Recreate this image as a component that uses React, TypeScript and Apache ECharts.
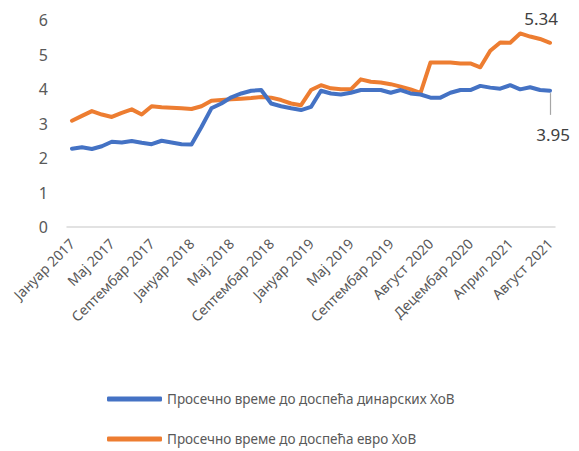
import React, { useEffect, useRef } from "react";
import * as echarts from "echarts";

const categories = [
  "Јануар 2017", "Фебруар 2017", "Март 2017", "Април 2017", "Мај 2017", "Јун 2017", "Јул 2017", "Август 2017",
  "Септембар 2017", "Октобар 2017", "Новембар 2017", "Децембар 2017",
  "Јануар 2018", "Фебруар 2018", "Март 2018", "Април 2018", "Мај 2018", "Јун 2018", "Јул 2018", "Август 2018",
  "Септембар 2018", "Октобар 2018", "Новембар 2018", "Децембар 2018",
  "Јануар 2019", "Фебруар 2019", "Март 2019", "Април 2019", "Мај 2019", "Јун 2019", "Јул 2019", "Август 2019",
  "Септембар 2019", "Октобар 2019", "Новембар 2019", "Децембар 2019",
  "Август 2020", "Септембар 2020", "Октобар 2020", "Новембар 2020", "Децембар 2020",
  "Јануар 2021", "Фебруар 2021", "Март 2021", "Април 2021", "Мај 2021", "Јун 2021", "Јул 2021", "Август 2021",
];

const dinarValues = [
  2.27, 2.31, 2.26, 2.34, 2.47, 2.45, 2.49, 2.44, 2.4, 2.5, 2.45, 2.4,
  2.39, 2.9, 3.44, 3.58, 3.76, 3.87, 3.95, 3.97, 3.58, 3.5, 3.44, 3.39,
  3.48, 3.95, 3.87, 3.84, 3.89, 3.97, 3.97, 3.97, 3.89, 3.97, 3.87, 3.84,
  3.75, 3.75, 3.89, 3.97, 3.97, 4.09, 4.04, 4.01, 4.11, 3.99, 4.05, 3.97, 3.95,
];

const euroValues = [
  3.08, 3.22, 3.36, 3.26, 3.19, 3.31, 3.41, 3.26, 3.5, 3.47, 3.46, 3.44,
  3.42, 3.5, 3.66, 3.68, 3.7, 3.72, 3.74, 3.77, 3.75, 3.68, 3.58, 3.53,
  3.97, 4.11, 4.02, 3.99, 3.99, 4.28, 4.21, 4.19, 4.14, 4.07, 3.99, 3.89,
  4.77, 4.77, 4.77, 4.74, 4.74, 4.63, 5.11, 5.35, 5.34, 5.61, 5.52, 5.45, 5.34,
];

const seriesNames = [
  "Просечно време до доспећа динарских ХоВ",
  "Просечно време до доспећа евро ХоВ",
];

const FONT = "'Noto Sans', sans-serif";

export default function App() {
  const ref = useRef<HTMLDivElement>(null);
  useEffect(() => {
    if (!ref.current) return;
    const chart = echarts.init(ref.current, null, { renderer: "svg" });
    const last = categories.length - 1;
    const lastDinar = dinarValues[last];
    const withLastLabel = (vals: number[], label: any) =>
      vals.map((v, i) => (i === last ? { value: v, label } : v));
    chart.setOption({
      animation: false,
      textStyle: { fontFamily: FONT },
      grid: { left: 67, right: 24, top: 20, bottom: 224, containLabel: false },
      legend: {
        orient: "vertical",
        left: 102,
        top: 387,
        itemGap: 26,
        itemWidth: 55,
        itemHeight: 5,
        icon: "roundRect",
        textStyle: { fontFamily: FONT, fontSize: 13.5, color: "#595959" },
        data: seriesNames,
      },
      xAxis: {
        type: "category",
        data: categories,
        boundaryGap: true,
        axisLine: { show: true, lineStyle: { color: "#d9d9d9", width: 1.5 } },
        axisTick: { show: false },
        axisLabel: {
          interval: 3,
          rotate: 45,
          color: "#595959",
          fontFamily: FONT,
          fontSize: 14,
          margin: 14,
        },
      },
      yAxis: {
        type: "value",
        min: 0,
        max: 6,
        interval: 1,
        axisLine: { show: false },
        axisTick: { show: false },
        splitLine: { show: false },
        axisLabel: { color: "#595959", fontFamily: FONT, fontSize: 16, margin: 19 },
      },
      series: [
        {
          name: seriesNames[0],
          type: "line",
          data: withLastLabel(dinarValues, {
            show: true,
            position: "bottom",
            distance: 5,
            formatter: (p: any) => p.value.toFixed(2),
            fontSize: 17,
            color: "#404040",
            fontFamily: FONT,
          }),
          labelLayout: { dy: 30, dx: 3 },
          markLine: {
            silent: true,
            symbol: "none",
            label: { show: false },
            lineStyle: { color: "#a6a6a6", width: 1.2, type: "solid" },
            data: [
              [
                { coord: [last, lastDinar - 0.07] },
                { coord: [last, lastDinar - 0.7] },
              ],
            ],
          },
          showSymbol: true,
          showAllSymbol: true,
          symbol: "circle",
          symbolSize: 0.01,
          lineStyle: { color: "#4472C4", width: 4, join: "round", cap: "round" },
          itemStyle: { color: "#4472C4" },
          z: 3,
        },
        {
          name: seriesNames[1],
          type: "line",
          data: withLastLabel(euroValues, {
            show: true,
            position: "top",
            distance: 16,
            offset: [-9, 0],
            formatter: (p: any) => p.value.toFixed(2),
            fontSize: 17,
            color: "#404040",
            fontFamily: FONT,
          }),
          showSymbol: true,
          showAllSymbol: true,
          symbol: "circle",
          symbolSize: 0.01,
          lineStyle: { color: "#ED7D31", width: 4, join: "round", cap: "round" },
          itemStyle: { color: "#ED7D31" },
          z: 2,
        },
      ],
    });
    return () => chart.dispose();
  }, []);
  return <div ref={ref} style={{ width: 579, height: 451, position: "absolute", left: 0, top: 0 }} />;
}
